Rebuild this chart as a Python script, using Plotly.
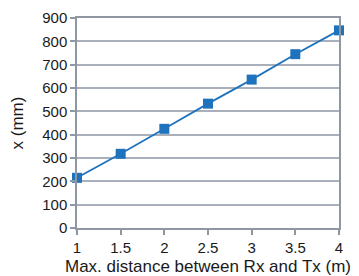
import plotly.graph_objects as go

distance_m = [1, 1.5, 2, 2.5, 3, 3.5, 4]
x_mm = [215, 318, 425, 533, 636, 745, 847]

line_color = "#1f73bd"
grid_color = "#a9b0bb"
axis_color = "#8e97a3"

fig = go.Figure(go.Scatter(
    x=distance_m, y=x_mm, mode="lines+markers",
    line=dict(color=line_color, width=1.8),
    marker=dict(symbol="square", size=10, color=line_color),
    cliponaxis=False,
))

# the page body keeps an 8px margin, so the figure is offset by 8px
font = dict(family="Liberation Sans, Arial, sans-serif", size=14.5, color="#1a1a1a")
fig.update_layout(
    width=351, height=268,
    margin=dict(l=69, r=20, t=10, b=48),
    paper_bgcolor="white", plot_bgcolor="white",
    font=font, showlegend=False,
)
fig.update_xaxes(
    range=[1, 4], tickvals=[1, 1.5, 2, 2.5, 3, 3.5, 4],
    ticktext=["1", "1.5", "2", "2.5", "3", "3.5", "4"],
    tickfont=dict(size=15),
    showgrid=False, zeroline=False, automargin=False,
    showline=True, linecolor=axis_color, linewidth=1.5, mirror=True,
    ticks="outside", ticklen=5, tickcolor=axis_color, tickwidth=1.5,
    title=dict(text="Max. distance between Rx and Tx (m)", standoff=10),
)
fig.update_yaxes(
    range=[0, 900], tickvals=list(range(0, 901, 100)),
    tickfont=dict(size=15),
    showgrid=True, gridcolor=grid_color, gridwidth=1.5, zeroline=False, automargin=False,
    showline=True, linecolor=axis_color, linewidth=1.5, mirror=True,
    ticks="outside", ticklen=5, tickcolor=axis_color, tickwidth=1.5,
    title=dict(text="x (mm)", standoff=14),
)

fig.write_html("out.html")
